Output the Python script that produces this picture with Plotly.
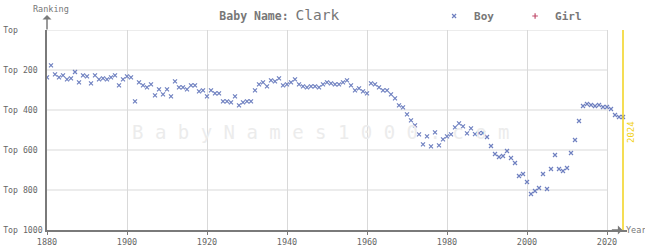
import plotly.graph_objects as go

years = list(range(1880, 2025))
boy_rank = [
    237, 177, 222, 237, 227, 247, 242, 210, 262, 227,  # 1880-1889
    232, 267, 227, 247, 242, 247, 237, 227, 277, 247,  # 1890-1899
    232, 237, 357, 262, 277, 287, 272, 327, 297, 322,  # 1900-1909
    297, 332, 257, 287, 287, 297, 277, 277, 307, 302,  # 1910-1919
    332, 302, 317, 317, 357, 357, 362, 332, 377, 362,  # 1920-1929
    357, 357, 302, 272, 262, 282, 252, 257, 242, 277,  # 1930-1939
    272, 262, 247, 272, 282, 287, 282, 282, 287, 272,  # 1940-1949
    262, 267, 272, 272, 262, 252, 277, 302, 292, 307,  # 1950-1959
    317, 267, 272, 287, 302, 302, 322, 342, 377, 387,  # 1960-1969
    422, 452, 477, 522, 572, 532, 582, 512, 577, 547,  # 1970-1979
    532, 522, 487, 467, 482, 517, 492, 521, 516, 515,  # 1980-1989
    535, 580, 620, 635, 630, 605, 640, 665, 730, 720,  # 1990-1999
    760, 820, 805, 790, 720, 795, 695, 625, 695, 705,  # 2000-2009
    690, 615, 550, 455, 380, 370, 375, 380, 375, 385,  # 2010-2019
    385, 395, 425, 435, 435,                           # 2020-2024
]
girl_rank = [None]
girl_years = [None]

y_ticks = [0, 200, 400, 600, 800, 1000]
y_labels = ["Top", "Top 200", "Top 400", "Top 600", "Top 800", "Top 1000"]
x_ticks = list(range(1880, 2021, 20))
grid_years = (1880, 2020)
current_year = 2024

MONO = "DejaVu Sans Mono"
GRAY = "#777777"
AXIS = "#7a7a7a"
GRID = "#d9d9d9"
BOY_C = "#6f80c0"
GIRL_C = "#c04a6a"
YEL = "#f2d21b"

pad_len = max(len(s) for s in y_labels)
y_text = [s + "\u00a0" * (pad_len - len(s)) for s in y_labels]

fig = go.Figure()
fig.add_trace(go.Scatter(
    x=years, y=boy_rank, mode="markers", name="Boy",
    marker=dict(symbol="x-thin", size=4, line=dict(width=1.2, color=BOY_C), color=BOY_C),
    hoverinfo="x+y",
))
fig.add_trace(go.Scatter(
    x=girl_years, y=girl_rank, mode="markers", name="Girl", showlegend=True,
    marker=dict(symbol="cross-thin", size=4, line=dict(width=1.2, color=GIRL_C), color=GIRL_C),
))

shapes = []
for t in y_ticks[:-1]:
    shapes.append(dict(type="line", xref="x", yref="y", x0=grid_years[0], x1=grid_years[1],
                       y0=t, y1=t, line=dict(color=GRID, width=1), layer="below"))
shapes.append(dict(type="line", xref="x", yref="paper", x0=current_year, x1=current_year,
                   y0=0, y1=1, line=dict(color=YEL, width=1.5), layer="above"))

annotations = [
    dict(text="B a b y N a m e s 1 0 0 0 . c o m".replace(" ", "\u00a0"),
         xref="paper", yref="paper", x=0.472, y=0.49, showarrow=False,
         font=dict(family=MONO, size=19, color="#ececec"), xanchor="center", yanchor="middle"),
    dict(text=str(current_year), xref="x", yref="paper", x=current_year, y=0.49,
         xshift=8, showarrow=False, textangle=-90,
         font=dict(family=MONO, size=9, color=YEL)),
    dict(text="Ranking", xref="paper", yref="paper", x=-0.027, y=1.105,
         xanchor="left", yanchor="middle", showarrow=False,
         font=dict(family=MONO, size=8.5, color=GRAY)),
    dict(text="Year", xref="paper", yref="paper", x=1.0, y=0, xshift=-3,
         xanchor="left", yanchor="middle", showarrow=False,
         font=dict(family=MONO, size=8.5, color=GRAY)),
    # axis arrows
    dict(x=0, y=1.075, xref="paper", yref="paper", ax=0, ay=16, showarrow=True,
         arrowhead=1, arrowsize=1, arrowwidth=1.5, arrowcolor=AXIS, text=""),
    dict(x=0.992, y=0, xref="paper", yref="paper", ax=-12, ay=0, showarrow=True,
         arrowhead=1, arrowsize=1, arrowwidth=1.5, arrowcolor=AXIS, text=""),
]

fig.update_layout(
    width=645, height=250,
    margin=dict(l=47, r=18, t=30, b=20, autoexpand=False),
    paper_bgcolor="white", plot_bgcolor="white",
    title=dict(
        text="<b>Baby Name:</b> <span style='font-size:14.5px'>Clark</span>",
        x=0.433, xanchor="center", xref="container", y=0.935, yanchor="middle",
        font=dict(family=MONO, size=11.5, color=GRAY),
    ),
    showlegend=True,
    legend=dict(
        orientation="h", x=0.673, y=0.936, xanchor="left", yanchor="middle",
        xref="container", yref="container",
        font=dict(family=MONO, size=11, color=GRAY, weight="bold"),
        bgcolor="rgba(0,0,0,0)", entrywidth=36, itemwidth=30,
        tracegroupgap=0,
    ),
    xaxis=dict(
        range=[1880, 2025], tickvals=x_ticks, ticktext=[str(v) for v in x_ticks],
        showgrid=True, gridcolor=GRID, gridwidth=1, zeroline=False,
        showline=True, linecolor=AXIS, linewidth=1.5,
        ticks="outside", ticklen=3, tickcolor=AXIS,
        tickfont=dict(family=MONO, size=8.5, color="#666666"),
    ),
    yaxis=dict(
        range=[1000, 0], tickvals=y_ticks, ticktext=y_text,
        showgrid=False, zeroline=False,
        showline=True, linecolor=AXIS, linewidth=1.5,
        ticks="", ticklabelstandoff=1,
        tickfont=dict(family=MONO, size=8.2, color="#666666"),
    ),
    shapes=shapes, annotations=annotations,
)

fig.write_html("out.html")
